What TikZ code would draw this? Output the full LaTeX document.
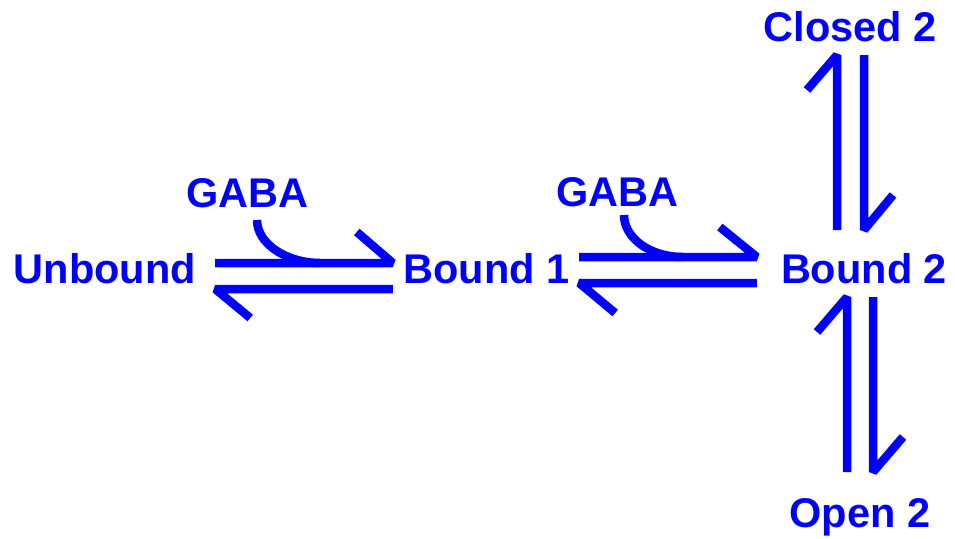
\documentclass[tikz,border=0pt]{standalone}
\usepackage{fontspec}
\setmainfont{Liberation Sans}
\begin{document}
\definecolor{eqblue}{RGB}{0,0,255}
\tikzset{
  lbl/.style={text=eqblue, font=\fontsize{41.5}{48}\selectfont\bfseries, inner sep=0pt, anchor=base},
  eqline/.style={draw=eqblue, line width=8.5pt, line join=bevel, line cap=butt},
}
\begin{tikzpicture}[x=1pt,y=-1pt]
\useasboundingbox (0,0) rectangle (955,538);

% species
\node[lbl] (u)  at (105,283)   {Unbound};
\node[lbl] (b1) at (486.5,283) {Bound 1};
\node[lbl] (b2) at (864,283)   {Bound 2};
\node[lbl] (g1) at (247.5,207) {GABA};
\node[lbl] (g2) at (617.5,206) {GABA};
\node[lbl] (c2) at (850,41)    {Closed 2};
\node[lbl] (o2) at (860,527)   {Open 2};

% Unbound <=> Bound 1
\draw[eqline] ([shift={(19,-20)}]u.base east) -- ([shift={(-10.5,-20)}]b1.base west) -- ++(-36,-31);
\draw[eqline] ([shift={(-10.5,6)}]b1.base west) -- ([shift={(19,6)}]u.base east) -- ++(35,29);
\draw[eqline] ([shift={(9.5,13)}]g1.base) .. controls +(0,24) and +(-33,0) .. ([shift={(-83.5,-20)}]b1.base west);

% Bound 1 <=> Bound 2
\draw[eqline] ([shift={(9.5,-26)}]b1.base east) -- ([shift={(-24,-26)}]b2.base west) -- ++(-37,-30);
\draw[eqline] ([shift={(-24,0)}]b2.base west) -- ([shift={(9.5,0)}]b1.base east) -- ++(36,30);
\draw[eqline] ([shift={(6.5,9)}]g2.base) .. controls +(0,23) and +(-33,0) .. ([shift={(-98,-26)}]b2.base west);

% Bound 2 <=> Closed 2
\draw[eqline] ([shift={(-27,-53)}]b2.base) -- ([shift={(-13,14)}]c2.base) -- ++(-30,35);
\draw[eqline] ([shift={(14,14)}]c2.base) -- ([shift={(0,-53)}]b2.base) -- ++(29,-35);

% Bound 2 <=> Open 2
\draw[eqline] ([shift={(-13,-55)}]o2.base) -- ([shift={(-17,14)}]b2.base) -- ++(-30,35);
\draw[eqline] ([shift={(9,14)}]b2.base) -- ([shift={(13,-55)}]o2.base) -- ++(30,-35);
\end{tikzpicture}
\end{document}
